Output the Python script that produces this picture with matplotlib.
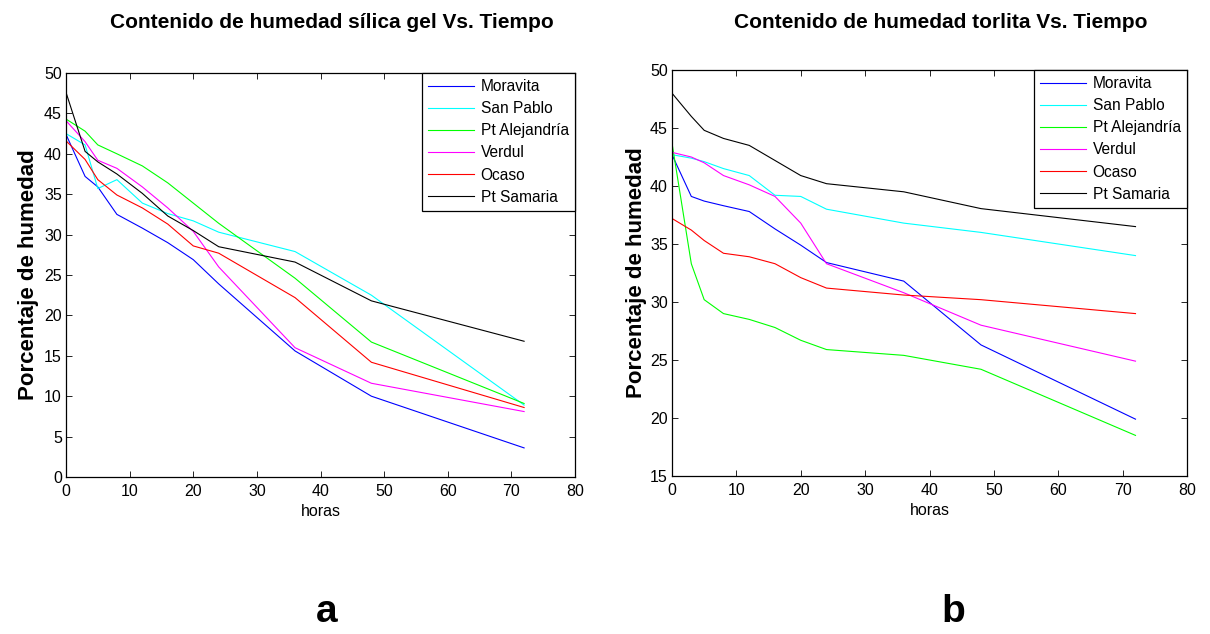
import matplotlib
matplotlib.use("Agg")
import matplotlib.pyplot as plt

plt.rcParams['font.family'] = ['Liberation Sans', 'DejaVu Sans']

horas = [0, 3, 5, 8, 12, 16, 20, 24, 36, 48, 72]
series_names = ["Moravita", "San Pablo", "Pt Alejandría", "Verdul", "Ocaso", "Pt Samaria"]
colors = ["#0000ff", "#00ffff", "#00ff00", "#ff00ff", "#ff0000", "#000000"]

# a: sílica gel
silica_moravita = [42.4, 37.2, 35.9, 32.5, 30.8, 29.0, 26.9, 23.9, 15.6, 10.0, 3.6]
silica_sanpablo = [42.5, 41.1, 35.7, 36.8, 33.9, 32.6, 31.7, 30.3, 27.9, 22.5, 8.9]
silica_alejandria = [44.3, 42.8, 41.1, 40.0, 38.5, 36.4, 33.9, 31.4, 24.6, 16.7, 9.1]
silica_verdul = [44.1, 41.5, 39.2, 38.2, 35.9, 33.3, 30.4, 26.0, 16.0, 11.6, 8.1]
silica_ocaso = [41.6, 39.3, 36.8, 34.9, 33.3, 31.3, 28.6, 27.7, 22.2, 14.2, 8.6]
silica_samaria = [47.6, 40.3, 39.0, 37.5, 35.1, 32.3, 30.5, 28.5, 26.6, 21.8, 16.8]

# b: torlita
torlita_moravita = [42.7, 39.1, 38.7, 38.3, 37.8, 36.3, 34.9, 33.4, 31.8, 26.3, 19.9]
torlita_sanpablo = [42.7, 42.4, 42.1, 41.5, 40.9, 39.2, 39.1, 38.0, 36.8, 36.0, 34.0]
torlita_alejandria = [43.7, 33.3, 30.2, 29.0, 28.5, 27.8, 26.7, 25.9, 25.4, 24.2, 18.5]
torlita_verdul = [42.9, 42.5, 42.0, 40.9, 40.1, 39.1, 36.8, 33.3, 30.8, 28.0, 24.9]
torlita_ocaso = [37.2, 36.2, 35.3, 34.2, 33.9, 33.3, 32.1, 31.2, 30.6, 30.2, 29.0]
torlita_samaria = [48.0, 46.0, 44.8, 44.1, 43.5, 42.2, 40.9, 40.2, 39.5, 38.05, 36.5]

silica = [silica_moravita, silica_sanpablo, silica_alejandria, silica_verdul, silica_ocaso, silica_samaria]
torlita = [torlita_moravita, torlita_sanpablo, torlita_alejandria, torlita_verdul, torlita_ocaso, torlita_samaria]

W, H = 1210, 634
fig = plt.figure(figsize=(W / 100, H / 100), dpi=100)


def ax_rect(x0, y0, x1, y1):
    return [x0 / W, 1 - y1 / H, (x1 - x0) / W, (y1 - y0) / H]


ax1 = fig.add_axes(ax_rect(66, 73, 575, 477))
ax2 = fig.add_axes(ax_rect(672, 70, 1187, 476))

for ax, data, ylim, yticks, ylab_x in [
    (ax1, silica, (0, 50), range(0, 51, 5), -0.053),
    (ax2, torlita, (15, 50), range(15, 51, 5), -0.049),
]:
    for vals, name, c in zip(data, series_names, colors):
        ax.plot(horas, vals, color=c, lw=0.8, label=name)
    ax.set_xlim(0, 80)
    ax.set_ylim(*ylim)
    ax.set_xticks(range(0, 81, 10))
    ax.set_yticks(list(yticks))
    ax.tick_params(direction='in', top=True, right=True, length=4.5, width=0.6,
                   labelsize=11.5, pad=3)
    ax.tick_params(axis='x', pad=5)
    for s in ax.spines.values():
        s.set_linewidth(0.9)
    ax.set_xlabel("horas", fontsize=11.5)
    ax.xaxis.set_label_coords(0.5, -0.066)
    ax.set_ylabel("Porcentaje de humedad", fontsize=16, fontweight='bold')
    ax.yaxis.set_label_coords(ylab_x, 0.5)
    leg = ax.legend(loc='upper right', borderaxespad=0, fontsize=11.2, handlelength=3.0,
                    handletextpad=0.4, labelspacing=0.455, fancybox=False,
                    edgecolor='black', framealpha=1, borderpad=0.4)
    leg.get_frame().set_linewidth(0.9)

fig.text(332 / W, 1 - 28 / H, "Contenido de humedad sílica gel Vs. Tiempo",
         ha='center', va='baseline', fontsize=15, fontweight='bold')
fig.text(941 / W, 1 - 28 / H, "Contenido de humedad torlita Vs. Tiempo",
         ha='center', va='baseline', fontsize=15, fontweight='bold')
fig.text(327 / W, 1 - 612 / H, "a", ha='center', va='center', fontsize=28, fontweight='bold')
fig.text(953 / W, 1 - 612 / H, "b", ha='center', va='center', fontsize=28, fontweight='bold')

fig.savefig("out.png", dpi=100, facecolor='white')
